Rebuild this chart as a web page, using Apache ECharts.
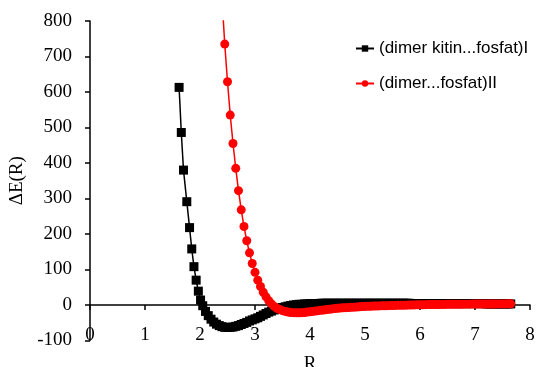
<!DOCTYPE html>
<html>
<head>
<meta charset="utf-8">
<script src="https://cdn.jsdelivr.net/npm/echarts@6/dist/echarts.min.js"></script>
<style>html,body{margin:0;padding:0;background:#fff}#c{width:538px;height:367px}</style>
</head>
<body>
<div id="c"></div>
<script>
var seriesNames = ['(dimer kitin...fosfat)I', '(dimer...fosfat)II'];

var blackR = [1.62,1.66,1.70,1.76,1.81,1.85,1.89,1.93,1.97,2.01,
2.05,2.10,2.15,2.20,2.25,2.30,2.35,2.40,2.45,2.50,
2.55,2.60,2.65,2.70,2.75,2.80,2.85,2.90,2.95,3.00,
3.05,3.10,3.15,3.20,3.25,3.30,3.35,3.40,3.45,3.50,
3.55,3.60,3.65,3.70,3.75,3.80,3.85,3.90,3.95,4.00,
4.05,4.10,4.15,4.20,4.25,4.30,4.35,4.40,4.45,4.50,
4.55,4.60,4.65,4.70,4.75,4.80,4.85,4.90,4.95,5.00,
5.05,5.10,5.15,5.20,5.25,5.30,5.35,5.40,5.45,5.50,
5.55,5.60,5.65,5.70,5.75,5.80,5.85,5.90,5.95,6.00,
6.05,6.10,6.15,6.20,6.25,6.30,6.35,6.40,6.45,6.50,
6.55,6.60,6.65,6.70,6.75,6.80,6.85,6.90,6.95,7.00,
7.05,7.10,7.15,7.20,7.25,7.30,7.35,7.40,7.45,7.50,
7.55,7.60,7.65];
var blackE = [613,486,380,291,218,158,108,70,39,14,
-2,-18,-30,-40,-48,-54,-58,-61,-63,-63,
-63,-62,-60,-58,-55,-52,-49,-45,-42,-39,
-36,-32,-28,-24,-20,-17,-14,-11,-9,-7,
-5,-3,-1.5,0,1,2,2,3,3,4,
4,4,4,5,5,5,5,5,5,5,
5,5,5,5,5,5,5,5,5,5,
5,5,5,5,5,5,5,5,5,5,
5,5,5,5,5,5,4,4,4,4,
4,4,4,4,4,4,4,4,4,4,
4,4,4,4,4,4,4,4,4,4,
4,4,4,3,3,3,3,3,3,3,
3,3,3];

var redR = [2.40,2.45,2.50,2.55,2.60,2.65,2.70,2.75,2.80,2.85,2.90,
2.95,3.00,3.05,3.10,3.15,3.20,3.25,3.30,3.35,3.40,
3.45,3.50,3.55,3.60,3.65,3.70,3.75,3.80,3.85,3.90,
3.95,4.00,4.05,4.10,4.15,4.20,4.25,4.30,4.35,4.40,
4.45,4.50,4.55,4.60,4.65,4.70,4.75,4.80,4.85,4.90,
4.95,5.00,5.05,5.10,5.15,5.20,5.25,5.30,5.35,5.40,
5.45,5.50,5.55,5.60,5.65,5.70,5.75,5.80,5.85,5.90,
5.95,6.00,6.05,6.10,6.15,6.20,6.25,6.30,6.35,6.40,
6.45,6.50,6.55,6.60,6.65,6.70,6.75,6.80,6.85,6.90,
6.95,7.00,7.05,7.10,7.15,7.20,7.25,7.30,7.35,7.40,
7.45,7.50,7.55,7.60,7.65];
var redE = [863,735,629,535,455,385,322,268,221,181,147,
117,92,70,52,36,23,12,3,-4,-9,
-13,-16,-18,-20,-21,-21.5,-22,-22,-21.5,-21,
-20,-19,-18,-17,-16,-15,-14,-13,-12,-11,
-10,-9,-8.5,-8,-7.5,-7,-6.5,-6,-5.5,-5,
-4.5,-4,-3.7,-3.4,-3.1,-2.8,-2.5,-2.2,-2,-1.8,
-1.6,-1.4,-1.2,-1,-0.8,-0.6,-0.4,-0.2,0,0.2,
0.4,0.6,0.8,1,1.1,1.2,1.3,1.4,1.5,1.6,
1.7,1.8,1.9,2,2,2.1,2.2,2.3,2.3,2.4,
2.5,2.5,2.6,2.7,2.7,2.8,2.8,2.9,2.9,3,
3,3.1,3.1,3.2,3.3];

function pairs(xs, ys) { return xs.map(function (x, i) { return [x, ys[i]]; }); }

var serif = 'Liberation Serif';
var chart = echarts.init(document.getElementById('c'), null, {renderer: 'canvas'});
chart.setOption({
  animation: false,
  backgroundColor: '#ffffff',
  grid: {left: 90, right: 8, top: 21, bottom: 26.5, containLabel: false, outerBoundsMode: 'none'},
  legend: {
    orient: 'vertical', left: 350, top: 35,
    itemWidth: 18, itemHeight: 8, itemGap: 18,
    textStyle: {fontFamily: 'Liberation Sans', fontSize: 17, color: '#000'},
    data: seriesNames
  },
  xAxis: {
    type: 'value', min: 0, max: 8, interval: 1,
    name: 'R', nameLocation: 'middle', nameGap: 14,
    nameTextStyle: {fontFamily: serif, fontSize: 19, color: '#000'},
    axisLine: {show: true, onZero: true, lineStyle: {color: '#000', width: 1.5}},
    axisTick: {show: true, inside: false, length: 5, lineStyle: {color: '#000', width: 1.5}},
    axisLabel: {fontFamily: serif, fontSize: 19, color: '#000', margin: -15},
    splitLine: {show: false}
  },
  yAxis: {
    type: 'value', min: -100, max: 800, interval: 100,
    name: 'ΔE(R)', nameLocation: 'middle', nameGap: 53,
    nameTextStyle: {fontFamily: serif, fontSize: 19, color: '#000'},
    axisLine: {show: true, onZero: false, lineStyle: {color: '#000', width: 1.5}},
    axisTick: {show: true, inside: false, length: 5, lineStyle: {color: '#000', width: 1.5}},
    axisLabel: {fontFamily: serif, fontSize: 19, color: '#000', margin: 18},
    splitLine: {show: false}
  },
  series: [
    {
      name: seriesNames[0], type: 'line', data: pairs(blackR, blackE),
      symbol: 'rect', symbolSize: 9, showAllSymbol: true,
      itemStyle: {color: '#000'}, lineStyle: {color: '#000', width: 1.5},
      clip: true, z: 2
    },
    {
      name: seriesNames[1], type: 'line', data: pairs(redR, redE),
      symbol: 'circle', symbolSize: 9, showAllSymbol: true,
      itemStyle: {color: '#ff0000'}, lineStyle: {color: '#ff0000', width: 1.5},
      clip: true, z: 3
    }
  ]
});
</script>
</body>
</html>
